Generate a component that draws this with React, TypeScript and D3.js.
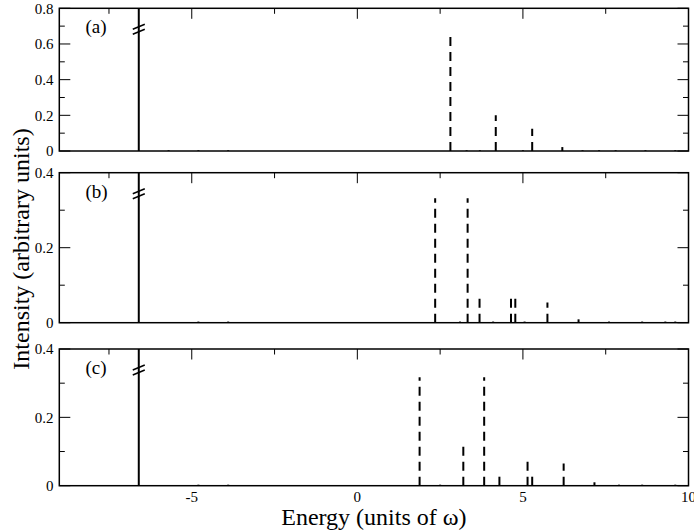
import React from "react";
import * as d3 from "d3";

// ---- data ----
const xTickValues = [-5, 0, 5, 10];
const xMinorTicks = [-7.5, -5, -2.5, 0, 2.5, 5, 7.5];
const groundEnergy = -6.6;

const panelLabels = ["(a)", "(b)", "(c)"];
const panelYMax = [0.8, 0.4, 0.4];
const panelYTicks = [
  [0, 0.2, 0.4, 0.6, 0.8],
  [0, 0.2, 0.4],
  [0, 0.2, 0.4],
];

// peak energies and intensities for each panel
const peaksAEnergy = [2.81, 4.18, 5.28, 6.19, -5.7, -4.8, -3.9, 3.3, 3.7, 5.0, 6.8, 7.3, 7.8, 8.7, 9.6];
const peaksAValue = [0.65, 0.2, 0.125, 0.022, 0.004, 0.004, 0.004, 0.004, 0.004, 0.004, 0.004, 0.004, 0.004, 0.004, 0.004];

const peaksBEnergy = [2.35, 3.33, 3.69, 4.64, 4.77, 5.74, 6.68, 3.1, 4.1, 5.05, 7.6, 8.6, 9.3, 9.6, -4.8, -3.9];
const peaksBValue = [0.332, 0.332, 0.071, 0.071, 0.071, 0.054, 0.009, 0.003, 0.003, 0.003, 0.003, 0.003, 0.003, 0.003, 0.003, 0.003];

const peaksCEnergy = [1.88, 3.2, 3.83, 4.29, 5.14, 5.28, 6.23, 7.16, -4.8, -3.9, 2.5, 7.9, 8.6, 9.6];
const peaksCValue = [0.317, 0.119, 0.317, 0.028, 0.077, 0.028, 0.065, 0.01, 0.003, 0.003, 0.003, 0.003, 0.003, 0.003];

const panelEnergies = [peaksAEnergy, peaksBEnergy, peaksCEnergy];
const panelValues = [peaksAValue, peaksBValue, peaksCValue];

// ---- layout ----
const W = 694;
const H = 531;
const left = 59.3;
const right = 688.5;
const panelTops = [8.3, 172.7, 349];
const panelBottoms = [151, 322.7, 485.7];
const FONT = "'Liberation Serif', 'Times New Roman', serif";

export default function App() {
  const x = d3.scaleLinear().domain([-9, 10]).range([left, right]);

  return (
    <svg
      width={W}
      height={H}
      style={{ position: "absolute", left: 0, top: 0, background: "#fff" }}
      fontFamily={FONT}
    >
      <rect x={0} y={0} width={W} height={H} fill="#fff" />
      {panelTops.map((top, i) => {
        const bottom = panelBottoms[i];
        const y = d3.scaleLinear().domain([0, panelYMax[i]]).range([bottom, top]);
        const majors = panelYTicks[i];
        const minors = d3.range(0.1, panelYMax[i], 0.2);
        const energies = panelEnergies[i];
        const values = panelValues[i];
        const gx = x(groundEnergy);
        const by = top + 20;
        return (
          <g key={i}>
            {/* sticks */}
            {energies.map((e, k) => (
              <line
                key={k}
                x1={x(e)}
                x2={x(e)}
                y1={y(0)}
                y2={y(values[k])}
                stroke="#000"
                strokeWidth={2}
                strokeDasharray="9,6"
              />
            ))}
            {/* ground-state line */}
            <line x1={gx} x2={gx} y1={top} y2={bottom} stroke="#000" strokeWidth={2} />
            {/* break marks */}
            <line x1={gx - 6} x2={gx + 6} y1={by + 1} y2={by - 4} stroke="#000" strokeWidth={1.5} />
            <line x1={gx - 6} x2={gx + 6} y1={by + 6} y2={by + 1} stroke="#000" strokeWidth={1.5} />
            {/* frame */}
            <rect
              x={left}
              y={top}
              width={right - left}
              height={bottom - top}
              fill="none"
              stroke="#000"
              strokeWidth={1.5}
            />
            {/* top ticks */}
            {xMinorTicks.map((t, k) => {
              const major = t % 5 === 0;
              return (
                <line
                  key={"xt" + k}
                  x1={x(t)}
                  x2={x(t)}
                  y1={top}
                  y2={top + (major ? 10.5 : 5.5)}
                  stroke="#000"
                  strokeWidth={1}
                />
              );
            })}
            {/* y ticks */}
            {majors.map((t, k) => (
              <g key={"yt" + k}>
                <line x1={left} x2={left + 11} y1={y(t)} y2={y(t)} stroke="#000" strokeWidth={1} />
                <line x1={right - 11} x2={right} y1={y(t)} y2={y(t)} stroke="#000" strokeWidth={1} />
                <text x={53.5} y={y(t)} dy="0.35em" textAnchor="end" fontSize={15}>
                  {t === 0 ? "0" : d3.format(".1f")(t)}
                </text>
              </g>
            ))}
            {minors.map((t, k) => (
              <g key={"ym" + k}>
                <line x1={left} x2={left + 5.5} y1={y(t)} y2={y(t)} stroke="#000" strokeWidth={1} />
                <line x1={right - 5.5} x2={right} y1={y(t)} y2={y(t)} stroke="#000" strokeWidth={1} />
              </g>
            ))}
            <text x={85.5} y={top + 25} fontSize={19}>
              {panelLabels[i]}
            </text>
          </g>
        );
      })}
      {/* x tick labels */}
      {xTickValues.map((t) => (
        <text key={t} x={x(t)} y={502} textAnchor="middle" fontSize={15}>
          {String(t)}
        </text>
      ))}
      <text x={(left + right) / 2} y={525} textAnchor="middle" fontSize={24}>
        Energy (units of ω)
      </text>
      <text
        transform={`translate(29,249) rotate(-90)`}
        textAnchor="middle"
        fontSize={24}
      >
        Intensity (arbitrary units)
      </text>
    </svg>
  );
}
